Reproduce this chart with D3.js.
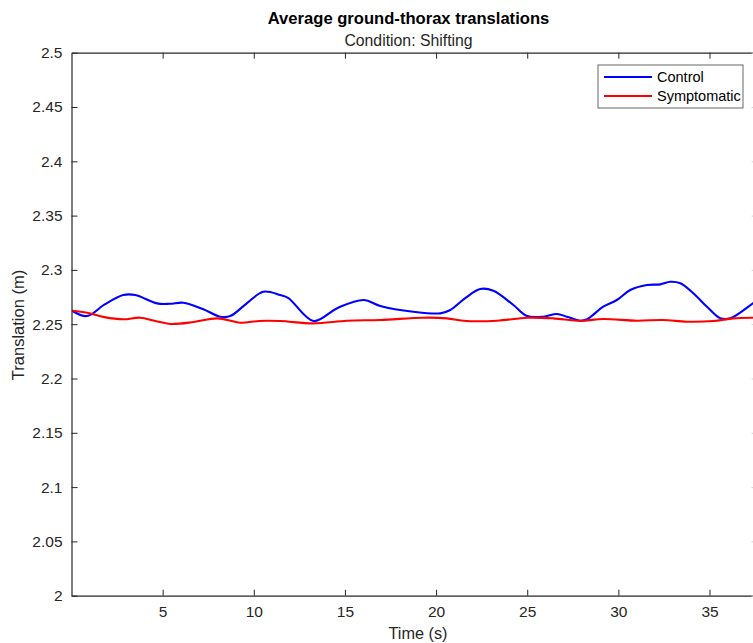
<!DOCTYPE html>
<html><head><meta charset="utf-8">
<script src="https://cdn.jsdelivr.net/npm/d3@7"></script>
<style>body{margin:0;background:#fff;overflow:hidden}svg{display:block}text{font-family:"Liberation Sans",Arial,sans-serif;fill:#262626}</style>
</head><body><svg id="c" width="753" height="643"></svg>
<script>
const title = "Average ground-thorax translations";
const subtitle = "Condition: Shifting";
const xLabel = "Time (s)";
const yLabel = "Translation (m)";
const seriesNames = ["Control", "Symptomatic"];
const seriesColors = ["#0000ff", "#ff0000"];
const xTicks = [5, 10, 15, 20, 25, 30, 35];
const yTicks = [2, 2.05, 2.1, 2.15, 2.2, 2.25, 2.3, 2.35, 2.4, 2.45, 2.5];
const controlT = [0.03,0.85,1.8,2.84,3.5,4.69,5.4,6.13,7.2,8.16,8.71,9.6,10.52,11.45,11.9,13.28,14.6,16.02,16.94,18.75,20.23,20.78,21.6,22.42,23.14,24.24,24.99,25.88,26.63,27.18,27.91,28.28,29.17,29.92,30.65,31.57,32.3,32.85,33.4,34.11,34.86,35.59,36.14,37.45,37.7];
const controlV = [2.2624,2.2575,2.2680,2.2769,2.2769,2.2692,2.2688,2.2698,2.2640,2.2569,2.2575,2.2690,2.2799,2.2769,2.2741,2.2529,2.2650,2.2723,2.2668,2.2615,2.2600,2.2631,2.2740,2.2824,2.2808,2.2677,2.2575,2.2569,2.2594,2.2569,2.2532,2.2545,2.2661,2.2723,2.2815,2.2861,2.2867,2.2891,2.2877,2.2785,2.2661,2.2554,2.2554,2.2700,2.2725];
const sympT = [0.03,0.85,1.8,2.84,3.77,4.6,5.42,6.7,8.0,9.26,10.3,11.45,13.26,15.11,16.94,19.3,20.6,21.49,23.34,24.99,26.43,27.91,29.17,31.02,32.46,33.76,35.21,36.3,37.45,37.7];
const sympV = [2.2624,2.2606,2.2565,2.2545,2.2560,2.2530,2.2502,2.2520,2.2554,2.2514,2.2530,2.2529,2.2508,2.2532,2.2539,2.2560,2.2554,2.2532,2.2532,2.2560,2.2554,2.2532,2.2548,2.2532,2.2539,2.2523,2.2529,2.2554,2.2560,2.2560];

const svg = d3.select("#c");
const L = 71.5, R = 758, T = 52.7, B = 595.7;
const x = d3.scaleLinear().domain([0, 37.66]).range([L, R]);
const y = d3.scaleLinear().domain([2, 2.5]).range([B, T]);
const ax = "#262626";

svg.append("clipPath").attr("id","pc").append("rect").attr("x",L).attr("y",T).attr("width",R-L).attr("height",B-T);

const line = d3.line().x(d=>x(d[0])).y(d=>y(d[1])).curve(d3.curveCatmullRom.alpha(0.5));
const data = [d3.zip(controlT, controlV), d3.zip(sympT, sympV)];
svg.append("g").attr("clip-path","url(#pc)").selectAll("path").data(data).join("path")
  .attr("d", line).attr("fill","none").attr("stroke",(d,i)=>seriesColors[i]).attr("stroke-width",2.1);

const axBottom = d3.axisBottom(x).tickValues(xTicks).tickSize(-6).tickPadding(10).tickFormat(d3.format("d")).tickSizeOuter(0);
const axTop = d3.axisTop(x).tickValues(xTicks).tickSize(-6).tickFormat("").tickSizeOuter(0);
const axLeft = d3.axisLeft(y).tickValues(yTicks).tickSize(-6).tickPadding(9).tickFormat(d=>String(+d.toFixed(2))).tickSizeOuter(0);
const axRight = d3.axisRight(y).tickValues(yTicks).tickSize(-6.5).tickFormat("").tickSizeOuter(0);
function style(g){g.select(".domain").attr("stroke",ax).attr("stroke-width",1.2);g.selectAll(".tick line").attr("stroke",ax);g.selectAll("text").attr("font-size",15.5).attr("fill",ax).style("font-family","'Liberation Sans',Arial,sans-serif");}
svg.append("g").attr("transform",`translate(0,${B})`).call(axBottom).call(style);
svg.append("g").attr("transform",`translate(0,${T})`).call(axTop).call(style);
svg.append("g").attr("transform",`translate(${L},0)`).call(axLeft).call(style);
const rg = svg.append("g").attr("transform",`translate(${R},0)`).call(axRight).call(style);
rg.selectAll(".tick line").attr("stroke","#cfcfcf");

svg.append("text").attr("x",408.5).attr("y",24).attr("text-anchor","middle").attr("font-size",16.6).attr("font-weight","bold").style("fill","#000").text(title);
svg.append("text").attr("x",408.5).attr("y",46).attr("text-anchor","middle").attr("font-size",15.8).text(subtitle);
svg.append("text").attr("x",418).attr("y",639).attr("text-anchor","middle").attr("font-size",16.3).text(xLabel);
svg.append("text").attr("transform","translate(24,325) rotate(-90)").attr("text-anchor","middle").attr("font-size",16.5).text(yLabel);

const lg = svg.append("g");
lg.append("rect").attr("x",598).attr("y",65).attr("width",145).attr("height",43).attr("fill","#fff").attr("stroke","#666").attr("stroke-width",1);
seriesNames.forEach((n,i)=>{
  const yy = 77 + i*19;
  lg.append("line").attr("x1",604).attr("x2",652).attr("y1",yy).attr("y2",yy).attr("stroke",seriesColors[i]).attr("stroke-width",2.2);
  lg.append("text").attr("x",657).attr("y",yy+5).attr("font-size",14.5).style("fill","#000").text(n);
});
</script></body></html>
